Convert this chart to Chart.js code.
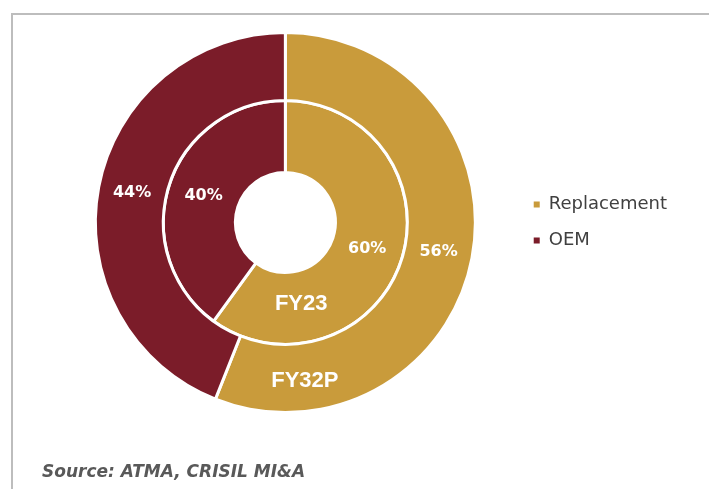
<!DOCTYPE html>
<html>
<head>
<meta charset="utf-8">
<script src="https://cdn.jsdelivr.net/npm/chart.js@4.4.0/dist/chart.umd.min.js"></script>
<style>
  html, body { margin: 0; padding: 0; background: #fff; }
  #wrap { position: relative; width: 709px; height: 489px; overflow: hidden; }
  #frame {
    position: absolute; left: 11px; top: 13px; width: 720px; height: 500px;
    border-top: 2px solid #bdbdbd; border-left: 2px solid #bdbdbd;
  }
  #chart { position: absolute; left: 0; top: 0; }
  #source {
    position: absolute; left: 42px; top: 461px; line-height: 20px;
    font: italic bold 17px "DejaVu Sans", sans-serif; color: #595959;
  }
</style>
</head>
<body>
<div id="wrap">
  <div id="frame"></div>
  <canvas id="chart" width="709" height="489"></canvas>
  <div id="source">Source: ATMA, CRISIL MI&amp;A</div>
</div>
<script>
const segments = ["Replacement", "OEM"];
const ringNames = ["FY32P", "FY23"];
const fy32pShare = [56, 44];
const fy23Share = [60, 40];

const colors = ["#c99b3b", "#7b1c29"];

// where each ring name sits: angle (deg, clockwise from 12 o'clock) and nudge off mid-ring
const nameAngles = [173, 169];
const nameNudge = [4, -3];

const ringLabels = {
  id: "ringLabels",
  afterDatasetsDraw(chart) {
    const ctx = chart.ctx;
    ctx.save();
    ctx.fillStyle = "#fff";
    ctx.textAlign = "center";
    ctx.textBaseline = "middle";
    chart.data.datasets.forEach((ds, di) => {
      const meta = chart.getDatasetMeta(di);
      meta.data.forEach((arc, i) => {
        const p = arc.getProps(["x", "y", "startAngle", "endAngle", "innerRadius", "outerRadius"], true);
        const a = (p.startAngle + p.endAngle) / 2;
        const r = (p.innerRadius + p.outerRadius) / 2;
        ctx.font = 'bold 16px "DejaVu Sans"';
        ctx.fillText(ds.data[i] + "%", p.x + Math.cos(a) * r, p.y + Math.sin(a) * r);
      });
      const p = meta.data[0].getProps(["x", "y", "innerRadius", "outerRadius"], true);
      const a = -Math.PI / 2 + (nameAngles[di] * Math.PI) / 180;
      const r = (p.innerRadius + p.outerRadius) / 2 + nameNudge[di];
      ctx.font = 'bold 22px "Liberation Sans"';
      ctx.fillText(ds.label, p.x + Math.cos(a) * r, p.y + Math.sin(a) * r);
    });
    ctx.restore();
  },
};

const chart = new Chart(document.getElementById("chart"), {
  type: "doughnut",
  data: {
    labels: segments,
    datasets: [
      {
        label: ringNames[0],
        data: fy32pShare,
        backgroundColor: colors,
        borderColor: "#fff",
        borderWidth: 3,
        weight: 68,
      },
      {
        label: ringNames[1],
        data: fy23Share,
        backgroundColor: colors,
        borderColor: "#fff",
        borderWidth: 3,
        weight: 72,
      },
    ],
  },
  options: {
    responsive: false,
    animation: false,
    cutout: 50,
    layout: {
      padding: { top: 31, bottom: 75, left: 55, right: 32 },
    },
    plugins: {
      tooltip: { enabled: false },
      legend: {
        position: "right",
        labels: {
          boxWidth: 6,
          boxHeight: 6,
          padding: 18,
          color: "#404040",
          font: { family: "DejaVu Sans", size: 18 },
          generateLabels: (c) =>
            Chart.overrides.doughnut.plugins.legend.labels
              .generateLabels(c)
              .map((l) => ({ ...l, lineWidth: 0 })),
        },
      },
    },
  },
  plugins: [ringLabels],
});
</script>
</body>
</html>
